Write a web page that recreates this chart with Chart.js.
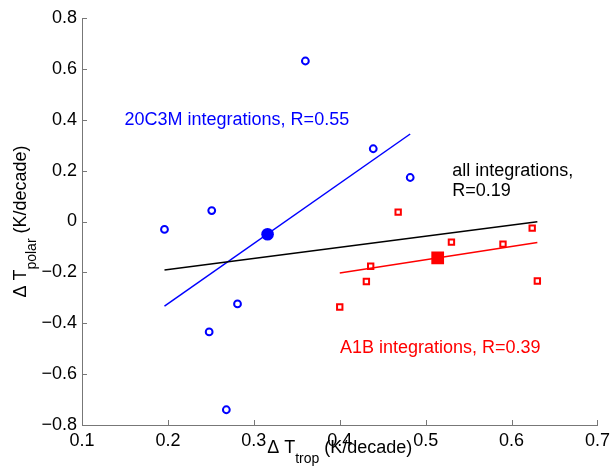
<!DOCTYPE html>
<html>
<head>
<meta charset="utf-8">
<script src="https://cdn.jsdelivr.net/npm/chart.js@4.4.1/dist/chart.umd.min.js"></script>
<style>
  html, body { margin: 0; padding: 0; background: #fff; }
  #wrap { width: 615px; height: 467px; position: relative; }
</style>
</head>
<body>
<div id="wrap"><canvas id="chart1"></canvas></div>
<script>
// values (K/decade)
const c20_x = [0.196, 0.251, 0.360, 0.439, 0.482, 0.281, 0.248, 0.268];
const c20_y = [-0.031, 0.043, 0.631, 0.286, 0.173, -0.324, -0.434, -0.740];
const c20_mean = [0.316, -0.050];
const c20_fit_x = [0.196, 0.482];
const c20_fit_y = [-0.333, 0.344];

const a1b_x = [0.400, 0.431, 0.436, 0.530, 0.468, 0.590, 0.624, 0.630];
const a1b_y = [-0.336, -0.236, -0.176, -0.081, 0.037, -0.089, -0.026, -0.234];
const a1b_mean = [0.514, -0.143];
const a1b_fit_x = [0.400, 0.630];
const a1b_fit_y = [-0.202, -0.083];

const all_fit_x = [0.196, 0.630];
const all_fit_y = [-0.191, -0.001];

const xTicks = [0.1, 0.2, 0.3, 0.4, 0.5, 0.6, 0.7];
const yTicks = [-0.8, -0.6, -0.4, -0.2, 0, 0.2, 0.4, 0.6, 0.8];

const notes = [
    { text: '20C3M integrations, R=0.55', x: 0.1495, y: 0.397, color: '#0000ff' },
    { text: 'all integrations,', x: 0.531, y: 0.197, color: '#000000' },
    { text: 'R=0.19', x: 0.531, y: 0.118, color: '#000000' },
    { text: 'A1B integrations, R=0.39', x: 0.4003, y: -0.497, color: '#ff0000' }
];

const FONT = "'Liberation Sans', Arial, sans-serif";
const BLUE = '#0000ff';
const RED = '#ff0000';
const AXIS = '#777777';

function pts(xs, ys) {
    return xs.map((x, i) => ({ x: x, y: ys[i] }));
}

function fmt(v) {
    if (Math.abs(v) < 1e-9) return '0';
    let s = Math.abs(v).toFixed(1);
    return (v < 0 ? '\u2212' : '') + s;
}

// tick marks pointing into the plot, notes and axis titles
const decorations = {
    id: 'decorations',
    afterDraw(chart) {
        const ctx = chart.ctx;
        const xs = chart.scales.x, ys = chart.scales.y;
        const area = chart.chartArea;
        ctx.save();
        ctx.strokeStyle = AXIS;
        ctx.lineWidth = 1;
        ctx.beginPath();
        xTicks.forEach(t => {
            const px = Math.round(xs.getPixelForValue(t)) + 0.5;
            ctx.moveTo(px, area.bottom);
            ctx.lineTo(px, area.bottom - 5);
        });
        yTicks.forEach(t => {
            const py = Math.round(ys.getPixelForValue(t)) + 0.5;
            ctx.moveTo(area.left, py);
            ctx.lineTo(area.left + 5, py);
        });
        ctx.stroke();

        ctx.textBaseline = 'middle';
        ctx.textAlign = 'left';
        ctx.font = '18px ' + FONT;
        notes.forEach(n => {
            ctx.fillStyle = n.color;
            ctx.fillText(n.text, xs.getPixelForValue(n.x), ys.getPixelForValue(n.y));
        });

        // axis titles with subscripts
        ctx.fillStyle = '#000';
        ctx.textBaseline = 'alphabetic';
        function titled(main, sub, rest) {
            ctx.font = '18px ' + FONT;
            const w1 = ctx.measureText(main).width;
            const w3 = ctx.measureText(rest).width;
            ctx.font = '14px ' + FONT;
            const w2 = ctx.measureText(sub).width;
            const total = w1 + w2 + w3;
            let x0 = -total / 2;
            ctx.font = '18px ' + FONT;
            ctx.fillText(main, x0, 0);
            ctx.font = '14px ' + FONT;
            ctx.fillText(sub, x0 + w1, 10);
            ctx.font = '18px ' + FONT;
            ctx.fillText(rest, x0 + w1 + w2, 0);
        }
        ctx.save();
        ctx.translate((area.left + area.right) / 2, 453);
        titled('\u0394 T', 'trop', ' (K/decade)');
        ctx.restore();

        ctx.save();
        ctx.translate(26, (area.top + area.bottom) / 2);
        ctx.rotate(-Math.PI / 2);
        titled('\u0394 T', 'polar', ' (K/decade)');
        ctx.restore();

        ctx.restore();
    }
};

const data = {
    datasets: [
        {
            type: 'line',
            data: pts(all_fit_x, all_fit_y),
            borderColor: '#000000',
            borderWidth: 1.5,
            pointRadius: 0
        },
        {
            type: 'line',
            data: pts(c20_fit_x, c20_fit_y),
            borderColor: BLUE,
            borderWidth: 1.5,
            pointRadius: 0
        },
        {
            type: 'line',
            data: pts(a1b_fit_x, a1b_fit_y),
            borderColor: RED,
            borderWidth: 1.5,
            pointRadius: 0
        },
        {
            data: pts(c20_x, c20_y),
            pointStyle: 'circle',
            pointRadius: 3.4,
            borderWidth: 2,
            borderColor: BLUE,
            backgroundColor: '#ffffff'
        },
        {
            data: [{ x: c20_mean[0], y: c20_mean[1] }],
            pointStyle: 'circle',
            pointRadius: 6.3,
            borderWidth: 0,
            backgroundColor: BLUE
        },
        {
            data: pts(a1b_x, a1b_y),
            pointStyle: 'rect',
            pointRadius: 3.8,
            borderWidth: 2,
            borderColor: RED,
            backgroundColor: '#ffffff'
        },
        {
            data: [{ x: a1b_mean[0], y: a1b_mean[1] }],
            pointStyle: 'rect',
            pointRadius: 9,
            borderWidth: 0,
            backgroundColor: RED
        }
    ]
};

const options = {
    responsive: true,
    maintainAspectRatio: false,
    animation: false,
    layout: { padding: { top: 18, right: 12, left: 0, bottom: 0 } },
    plugins: {
        legend: { display: false },
        tooltip: { enabled: false }
    },
    scales: {
        x: {
            type: 'linear',
            min: 0.1,
            max: 0.7,
            afterFit(scale) { scale.height = 42; },
            afterBuildTicks(scale) { scale.ticks = xTicks.map(v => ({ value: v })); },
            grid: { display: false, drawTicks: false },
            border: { display: true, color: AXIS, width: 1 },
            ticks: {
                padding: 5,
                color: '#000',
                font: { family: FONT, size: 18 },
                maxRotation: 0,
                callback: v => fmt(v)
            }
        },
        y: {
            type: 'linear',
            min: -0.8,
            max: 0.8,
            afterFit(scale) { scale.width = 82; },
            afterBuildTicks(scale) { scale.ticks = yTicks.map(v => ({ value: v })); },
            grid: { display: false, drawTicks: false },
            border: { display: true, color: AXIS, width: 1 },
            ticks: {
                padding: 5,
                color: '#000',
                font: { family: FONT, size: 18 },
                callback: v => fmt(v)
            }
        }
    }
};

const ctx = document.getElementById('chart1').getContext('2d');
const myChart = new Chart(ctx, {
    type: 'scatter',
    data: data,
    options: options,
    plugins: [decorations]
});
</script>
</body>
</html>
